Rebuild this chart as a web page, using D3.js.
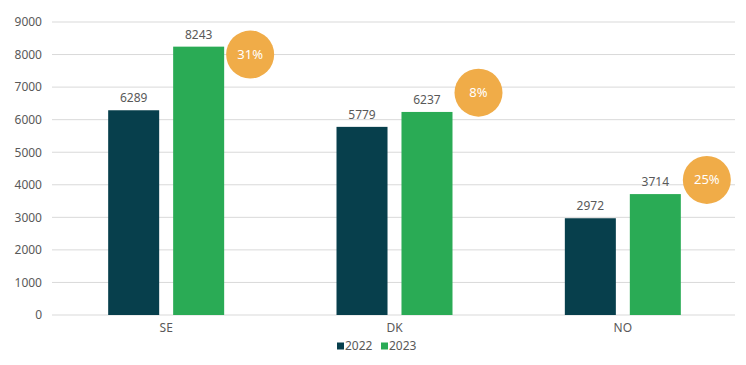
<!DOCTYPE html>
<html>
<head>
<meta charset="utf-8">
<script src="https://cdn.jsdelivr.net/npm/d3@7"></script>
<style>
  body { margin: 0; background: #fff; }
  text { font-family: "Noto Sans", sans-serif; fill: #595959; }
</style>
</head>
<body>
<svg id="drawing_region"></svg>
<script>
const categories = ["SE", "DK", "NO"];
const seriesNames = ["2022", "2023"];
const values2022 = [6289, 5779, 2972];
const values2023 = [8243, 6237, 3714];
const growthLabels = ["31%", "8%", "25%"];
const growthLevel = [8000, 6830, 4150];   // vertical position of the bubbles, in axis units
const yTicks = [0, 1000, 2000, 3000, 4000, 5000, 6000, 7000, 8000, 9000];

const colors = ["#073f4c", "#2aab55"];

const width = 746, height = 365;
const margin = {top: 22, right: 9, bottom: 50, left: 52};

const svg = d3.select("#drawing_region")
    .attr("width", width)
    .attr("height", height);

const chart = svg.append("g")
    .attr("transform", `translate(${margin.left}, ${margin.top})`);

const inner_width = width - margin.left - margin.right;
const inner_height = height - margin.top - margin.bottom;

const yscale = d3.scaleLinear()
    .domain([0, 9000])
    .range([inner_height, 0]);

const x0 = d3.scaleBand()
    .domain(categories)
    .range([0, inner_width])
    .paddingInner(0.492)
    .paddingOuter(0.246);

const x1 = d3.scaleBand()
    .domain(seriesNames)
    .range([0, x0.bandwidth()])
    .paddingInner(0.215);

// gridlines
chart.append("g")
    .selectAll("line")
    .data(yTicks)
    .join("line")
    .attr("x1", 0)
    .attr("x2", inner_width - 2)
    .attr("y1", d => yscale(d))
    .attr("y2", d => yscale(d))
    .attr("stroke", "#d9d9d9")
    .attr("stroke-width", 1);

// y axis labels
const yaxis = d3.axisLeft(yscale).tickValues(yTicks).tickFormat(d3.format("d")).tickSize(0).tickPadding(10);
chart.append("g")
    .call(yaxis)
    .call(g => g.select(".domain").remove())
    .selectAll("text")
    .style("font-size", "12px")
    .style("font-family", "'Noto Sans', sans-serif")
    .attr("fill", "#595959");

// x axis labels
const xaxis = d3.axisBottom(x0).tickSize(0).tickPadding(8);
chart.append("g")
    .attr("transform", `translate(0, ${inner_height})`)
    .call(xaxis)
    .call(g => g.select(".domain").remove())
    .selectAll("text")
    .style("font-size", "12px")
    .style("font-family", "'Noto Sans', sans-serif")
    .attr("fill", "#595959");

const rows = categories.map((c, i) => ({
    cat: c,
    vals: [values2022[i], values2023[i]],
    growth: growthLabels[i],
    level: growthLevel[i]
}));

const groups = chart.selectAll(".grp")
    .data(rows)
    .join("g")
    .attr("class", "grp")
    .attr("transform", d => `translate(${x0(d.cat)}, 0)`);

groups.selectAll("rect")
    .data(d => d.vals.map((v, j) => ({key: seriesNames[j], v: v, j: j})))
    .join("rect")
    .attr("x", d => x1(d.key))
    .attr("y", d => yscale(d.v))
    .attr("width", x1.bandwidth())
    .attr("height", d => inner_height - yscale(d.v))
    .attr("fill", d => colors[d.j]);

groups.selectAll(".val")
    .data(d => d.vals.map((v, j) => ({key: seriesNames[j], v: v})))
    .join("text")
    .attr("class", "val")
    .attr("x", d => x1(d.key) + x1.bandwidth() / 2)
    .attr("y", d => yscale(d.v) - 8)
    .attr("text-anchor", "middle")
    .style("font-size", "12px")
    .text(d => d.v);

// growth bubbles
const r = 24;
groups.append("circle")
    .attr("cx", x0.bandwidth() + r + 2)
    .attr("cy", d => yscale(d.level))
    .attr("r", r)
    .attr("fill", "#f0ac48");

groups.append("text")
    .attr("x", x0.bandwidth() + r + 2)
    .attr("y", d => yscale(d.level))
    .attr("dy", "0.35em")
    .attr("text-anchor", "middle")
    .style("font-size", "13px")
    .style("fill", "#fff")
    .text(d => d.growth);

// legend
const legend = svg.append("g")
    .attr("transform", `translate(337, 346)`);

const items = legend.selectAll("g")
    .data(seriesNames)
    .join("g")
    .attr("transform", (d, i) => `translate(${i * 44}, 0)`);

items.append("rect")
    .attr("x", 0)
    .attr("y", -3.5)
    .attr("width", 7)
    .attr("height", 7)
    .attr("fill", (d, i) => colors[i]);

items.append("text")
    .attr("x", 8)
    .attr("y", 0)
    .attr("dy", "0.35em")
    .style("font-size", "12px")
    .text(d => d);
</script>
</body>
</html>
